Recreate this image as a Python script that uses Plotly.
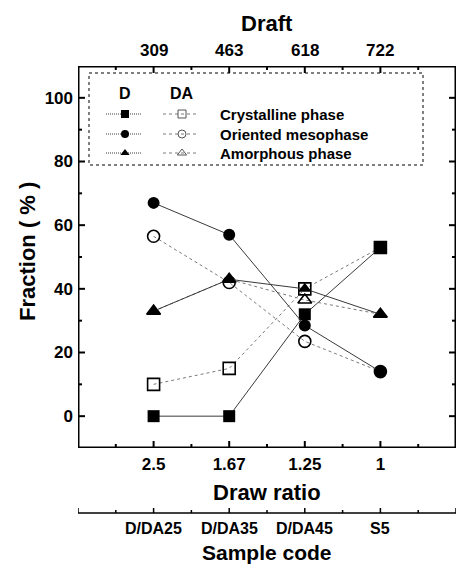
import plotly.graph_objects as go

# ---------------- data ----------------
positions = [1, 2, 3, 4]
draw_ratio_labels = ["2.5", "1.67", "1.25", "1"]
draft_labels = ["309", "463", "618", "722"]
sample_codes = ["D/DA25", "D/DA35", "D/DA45", "S5"]
sample_ends = [0, 5]
y_major = [0, 20, 40, 60, 80, 100]
y_minor = [10, 30, 50, 70, 90]
x_minor = [0.5, 1.5, 2.5, 3.5, 4.5]

d_crystalline = [0, 0, 32, 53]
d_oriented = [67, 57, 28.5, 14]
d_amorphous = [33, 43, 40, 32]

da_crystalline = [10, 15, 40, 53]
da_oriented = [56.5, 42, 23.5, 14]
da_amorphous = [33, 43, 36.5, 32]

phase_names = ["Crystalline phase", "Oriented mesophase", "Amorphous phase"]
symbols = ["square", "circle", "triangle-up"]

# ---------------- layout geometry ----------------
FONT = "Liberation Sans"
W, H = 468, 568
L, R, T, B = 78, 12, 66, 48
frame_bottom_px = 448
sample_axis_px = 513
paper_h = H - T - B
ydom0 = (H - B - frame_bottom_px) / paper_h
sample_pos = (H - B - sample_axis_px) / paper_h
XR = [0, 5]
YR = [-10, 110]
MAJ, MIN = 7, 4


def px_to_x(px):
    return XR[0] + (px - L) * (XR[1] - XR[0]) / (W - R - L)


def px_to_y(py):
    return YR[1] - (py - T) * (YR[1] - YR[0]) / (frame_bottom_px - T)


def bold(s):
    return "<b>" + s + "</b>" if s else ""


d_line = dict(color="#3a3a3a", width=1)
da_line = dict(color="#7a7a7a", width=1, dash="3px,3px")
MS = 12

fig = go.Figure()

da_series = [da_crystalline, da_oriented, da_amorphous]
d_series = [d_crystalline, d_oriented, d_amorphous]

for vals, sym, name in zip(da_series, symbols, phase_names):
    fig.add_trace(go.Scatter(
        x=positions, y=vals, mode="lines+markers", name="DA " + name,
        line=da_line,
        marker=dict(symbol=sym + "-open", size=MS, color="black",
                    line=dict(width=1.6, color="black")),
        showlegend=False))
for vals, sym, name in zip(d_series, symbols, phase_names):
    fig.add_trace(go.Scatter(
        x=positions, y=vals, mode="lines+markers", name="D " + name,
        line=d_line,
        marker=dict(symbol=sym, size=MS, color="black"),
        showlegend=False))

# ---------------- frame and inward tick marks ----------------
tick_line = dict(color="black", width=2)
for v in positions + x_minor:
    ln = MAJ if v in positions else MIN
    fig.add_shape(type="line", xref="x", yref="y", x0=v, x1=v, ysizemode="pixel",
                  yanchor=YR[0], y0=0, y1=ln, line=tick_line, layer="above")
    fig.add_shape(type="line", xref="x", yref="y", x0=v, x1=v, ysizemode="pixel",
                  yanchor=YR[1], y0=0, y1=-ln, line=tick_line, layer="above")
for v in y_major + y_minor:
    ln = MAJ if v in y_major else MIN
    fig.add_shape(type="line", xref="x", yref="y", y0=v, y1=v, xsizemode="pixel",
                  xanchor=XR[0], x0=0, x1=ln, line=tick_line, layer="above")
    fig.add_shape(type="line", xref="x", yref="y", y0=v, y1=v, xsizemode="pixel",
                  xanchor=XR[1], x0=0, x1=-ln, line=tick_line, layer="above")
fig.add_shape(type="rect", xref="x", yref="y", x0=XR[0], x1=XR[1], y0=YR[0], y1=YR[1],
              line=dict(color="black", width=3), layer="above")

# ---------------- sample-code scale below the draw-ratio axis ----------------
fig.add_shape(type="line", xref="x", yref="paper", x0=sample_ends[0], x1=sample_ends[1],
              y0=sample_pos, y1=sample_pos, line=dict(color="black", width=1.5))
for v in sample_ends + positions + x_minor:
    ln = 3 if v in x_minor else 5
    fig.add_shape(type="line", xref="x", yref="paper", x0=v, x1=v, ysizemode="pixel",
                  yanchor=sample_pos, y0=0, y1=ln, line=dict(color="black", width=1.5))
for p, lab in zip(positions, sample_codes):
    fig.add_annotation(x=p, xref="x", y=sample_pos, yref="paper", yshift=-15,
                       text=bold(lab), showarrow=False, yanchor="middle",
                       font=dict(family=FONT, size=16, color="black"))

# ---------------- custom legend ----------------
leg_box = dict(x0=px_to_x(89), x1=px_to_x(423), y0=px_to_y(73), y1=px_to_y(165))
leg_rows_y = [px_to_y(p) for p in (114, 134, 153)]
leg_head_y = px_to_y(93)
d_col = [px_to_x(p) for p in (106, 125, 142)]
da_col = [px_to_x(p) for p in (163, 182, 199)]
text_x = px_to_x(218)

for i, (sym, name) in enumerate(zip(symbols, phase_names)):
    yy = leg_rows_y[i]
    fig.add_trace(go.Scatter(x=[d_col[0], d_col[2]], y=[yy, yy],
                             mode="lines", line=dict(color="#3a3a3a", width=1, dash="1px,1px"),
                             showlegend=False, hoverinfo="skip"))
    fig.add_trace(go.Scatter(x=[d_col[1]], y=[yy], mode="markers",
                             marker=dict(symbol=sym, size=8, color="black"),
                             showlegend=False, hoverinfo="skip"))
    fig.add_trace(go.Scatter(x=[da_col[0], da_col[2]], y=[yy, yy],
                             mode="lines", line=dict(color="#7a7a7a", width=1, dash="3px,3px"),
                             showlegend=False, hoverinfo="skip"))
    fig.add_trace(go.Scatter(x=[da_col[1]], y=[yy], mode="markers",
                             marker=dict(symbol=sym + "-open", size=8, color="#555",
                                         line=dict(width=1, color="#555")),
                             showlegend=False, hoverinfo="skip"))
    fig.add_annotation(x=text_x, y=yy, text=bold(name), showarrow=False,
                       xanchor="left", yanchor="middle",
                       font=dict(family=FONT, size=15, color="black"))

fig.add_annotation(x=d_col[1], y=leg_head_y, text=bold("D"), showarrow=False,
                   font=dict(family=FONT, size=16, color="black"))
fig.add_annotation(x=da_col[1], y=leg_head_y, text=bold("DA"), showarrow=False,
                   font=dict(family=FONT, size=16, color="black"))
fig.add_shape(type="rect", xref="x", yref="y", **leg_box,
              line=dict(color="black", width=1, dash="dot"))

tickfont = dict(family=FONT, size=17, color="black")
titlefont = dict(family=FONT, size=22, color="black")

# top "Draft" scale labels and axis titles
for p, lab in zip(positions, draft_labels):
    fig.add_annotation(x=p, xref="x", y=1, yref="paper", yshift=16, text=bold(lab),
                       showarrow=False, yanchor="middle", font=tickfont)
fig.add_annotation(x=2.5, xref="x", y=1, yref="paper", yshift=43, text=bold("Draft"),
                   showarrow=False, yanchor="middle", font=titlefont)
fig.add_annotation(x=2.5, xref="x", y=ydom0, yref="paper", yshift=-(492 - frame_bottom_px),
                   text=bold("Draw ratio"), showarrow=False, yanchor="middle", font=titlefont)
fig.add_annotation(x=2.5, xref="x", y=ydom0, yref="paper", yshift=-(552 - frame_bottom_px),
                   text=bold("Sample code"), showarrow=False, yanchor="middle",
                   font=dict(family=FONT, size=21, color="black"))
fig.add_annotation(x=0, xref="paper", xshift=-(L - 27), y=(ydom0 + 1) / 2, yref="paper",
                   yshift=5, text=bold("Fraction ( % )"), textangle=-90, showarrow=False,
                   xanchor="center", yanchor="middle", font=titlefont)

fig.update_layout(
    width=W, height=H,
    margin=dict(l=L, r=R, t=T, b=B),
    paper_bgcolor="white", plot_bgcolor="white",
    xaxis=dict(range=XR, tickvals=positions, ticktext=[bold(t) for t in draw_ratio_labels],
               ticks="", showline=False, showgrid=False, zeroline=False,
               tickfont=tickfont, ticklabelstandoff=4),
    yaxis=dict(range=YR, domain=[ydom0, 1], tickvals=y_major,
               ticktext=[bold(str(v)) for v in y_major],
               ticks="", showline=False, showgrid=False, zeroline=False,
               tickfont=tickfont, ticklabelstandoff=4),
)

fig.write_html("out.html")
